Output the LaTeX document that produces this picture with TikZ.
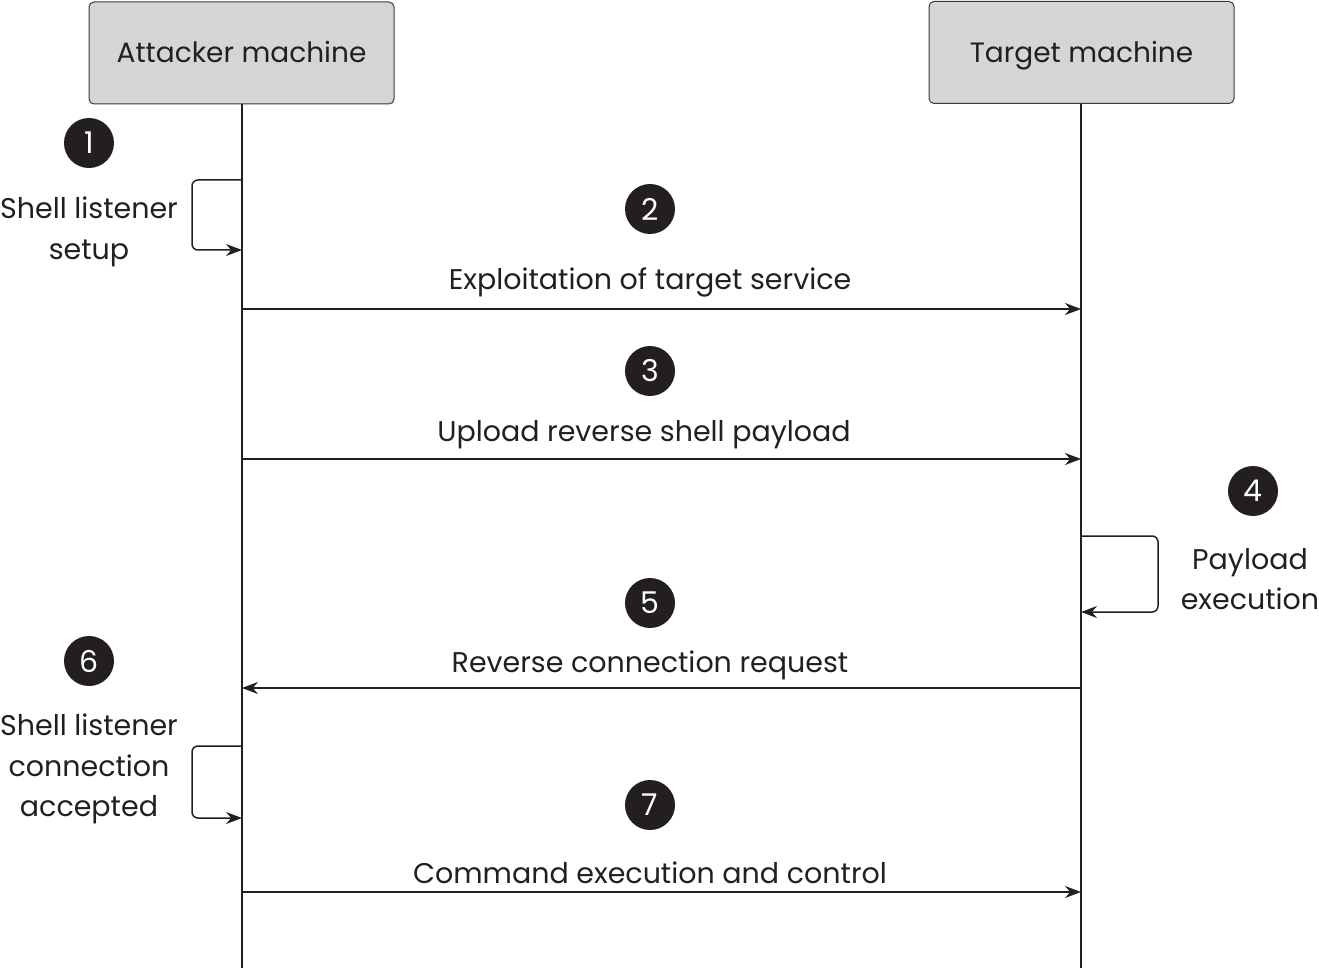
\documentclass[tikz,border=0pt]{standalone}
\usepackage{fontspec}
\setmainfont{Poppins}
\usetikzlibrary{arrows.meta}
\definecolor{boxfill}{HTML}{D4D5D7}
\definecolor{boxline}{HTML}{3A3A3A}
\definecolor{ink}{HTML}{231F20}
\tikzset{
  x=1pt, y=-1pt,
  actor/.style={draw=boxline, line width=1pt, fill=boxfill, rounded corners=5pt, minimum width=305pt, minimum height=102pt, inner sep=0pt, text height=24pt, text depth=4pt, font=\fontsize{28}{34}\selectfont, text=ink},
  life/.style={draw=ink, line width=1.7pt},
  msg/.style={draw=ink, line width=1.5pt, -{Stealth[length=16pt, width=12pt]}},
  loopmsg/.style={draw=ink, line width=1.5pt, rounded corners=6pt, -{Stealth[length=16pt, width=12pt]}},
  num/.style={circle, fill=ink, minimum size=50pt, inner sep=0pt, text=white, font=\fontsize{30}{30}\selectfont},
  lbl/.style={text=ink, font=\fontsize{28.5}{40.5}\selectfont, align=center, inner sep=0pt},
}
\begin{document}
\begin{tikzpicture}
\useasboundingbox (0,0) rectangle (1319,968);
\node[actor] (att) at (241.5,53) {Attacker machine};
\node[actor] (tgt) at (1081.5,52.5) {Target machine};
\coordinate (attend) at (242,968);
\coordinate (tgtend) at (1081,968);
\draw[life] (att.south -| attend) -- (attend);
\draw[life] (tgt.south -| tgtend) -- (tgtend);

% lifeline points
\coordinate (a1s) at (242,180); \coordinate (a1e) at (242,250);
\coordinate (a2) at (242,309); \coordinate (t2) at (1081,309);
\coordinate (a3) at (242,459); \coordinate (t3) at (1081,459);
\coordinate (t4s) at (1081,536); \coordinate (t4e) at (1081,612);
\coordinate (a5) at (242,688); \coordinate (t5) at (1081,688);
\coordinate (a6s) at (242,746); \coordinate (a6e) at (242,818);
\coordinate (a7) at (242,892); \coordinate (t7) at (1081,892);

% step 1
\node[num] (n1) at (89,143) {1};
\node[lbl] (l1) at (89,232) {Shell listener\\setup};
\draw[loopmsg] (a1s) -- (192,180) -- (192,250) -- (a1e);

% step 2
\node[num] (n2) at (650,209) {2};
\node[lbl] (l2) at (650,282) {Exploitation of target service};
\draw[msg] (a2) -- (t2);

% step 3
\node[num] (n3) at (650,371) {3};
\node[lbl] (l3) at (644,435) {Upload reverse shell payload};
\draw[msg] (a3) -- (t3);

% step 4
\node[num] (n4) at (1253,491) {4};
\node[lbl] (l4) at (1250,579) {Payload\\execution};
\draw[loopmsg] (t4s) -- (1158,536) -- (1158,612) -- (t4e);

% step 5
\node[num] (n5) at (650,603) {5};
\node[lbl] (l5) at (650,665) {Reverse connection request};
\draw[msg] (t5) -- (a5);

% step 6
\node[num] (n6) at (89,661) {6};
\node[lbl] (l6) at (89,769) {Shell listener\\connection\\accepted};
\draw[loopmsg] (a6s) -- (192,746) -- (192,818) -- (a6e);

% step 7
\node[num] (n7) at (650,805) {7};
\node[lbl] (l7) at (650,873) {Command execution and control};
\draw[msg] (a7) -- (t7);
\end{tikzpicture}
\end{document}
